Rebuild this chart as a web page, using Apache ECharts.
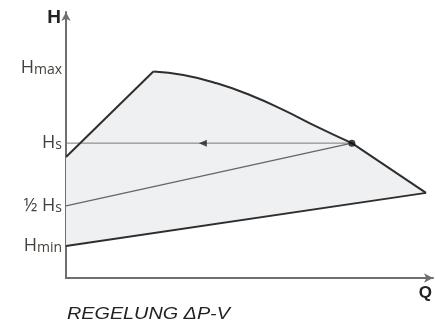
<!DOCTYPE html>
<html><head><meta charset="utf-8">
<script src="https://cdn.jsdelivr.net/npm/echarts@6/dist/echarts.min.js"></script>
<style>html,body{margin:0;padding:0;background:#fff}#c{width:435px;height:327px}</style>
</head><body><div id="c"></div>
<script>
// Rising straight segment of the max curve: [Q, H]
var riseSegment = [[0,45.5],[23.8,77.6]];
// Curved part of the max pump curve
var pumpCurve = [[23.8,77.6],[32.0,76.3],[41.1,73.2],[50.1,68.8],[59.2,63.2],[68.3,56.9],[77.9,50.7]];
// Falling straight segment at the right
var dropSegment = [[77.9,50.7],[98.1,32.0]];
// Minimum curve
var minCurve = [[0,12.0],[98.1,32.0]];
// ΔP-V control line (½Hs -> Hs)
var controlLine = [[0,27.1],[77.9,50.7]];
// Hs set-point horizontal
var hsLine = [[0,50.7],[77.9,50.7]];
var opPoint = [[77.9,50.7]];
var arrowPoint = [[37.3,50.7]];
// Y tick labels
var yTickValues = [79.0, 50.7, 27.1, 12.0];
var yTickLabels = ['{h|H}{s|max}', '{h|H}{s|s}', '{h|½ H}{s|s}', '{h|H}{s|min}'];

var region = riseSegment.concat(pumpCurve.slice(1), dropSegment.slice(1), minCurve.slice().reverse());

var chart = echarts.init(document.getElementById('c'));
chart.setOption({
  animation:false,
  grid:{left:66, right:2, top:12, bottom:49},
  graphic:[{type:'text', left:67, top:306, scaleX:1.2,
    style:{text:'REGELUNG ΔP-V', fontFamily:'Liberation Sans', fontStyle:'italic', fontSize:16.5, fill:'#222'}}],
  xAxis:{type:'value', min:0, max:100, name:'Q', nameLocation:'end', nameGap:-1,
    nameTextStyle:{fontFamily:'Liberation Sans', fontWeight:'bold', fontSize:17, color:'#222', align:'right', verticalAlign:'top', padding:[7,0,0,0]},
    axisLine:{show:true, onZero:false, symbol:['none','arrow'], symbolSize:[7,9], lineStyle:{color:'#6f6f6f', width:2}},
    axisTick:{show:false}, axisLabel:{show:false}, splitLine:{show:false}},
  yAxis:{type:'value', min:0, max:100, name:'H', nameLocation:'end', nameGap:4,
    nameTextStyle:{fontFamily:'Liberation Sans', fontWeight:'bold', fontSize:19, color:'#222', align:'right', verticalAlign:'top', padding:[0,5,0,0]},
    axisLine:{show:true, onZero:false, symbol:['none','arrow'], symbolSize:[7,9], lineStyle:{color:'#6f6f6f', width:2}},
    axisTick:{show:false}, splitLine:{show:false},
    axisLabel:{show:true, customValues:yTickValues, margin:4,
      formatter:function(v){ for(var i=0;i<yTickValues.length;i++){ if(Math.abs(v-yTickValues[i])<1e-6) return yTickLabels[i]; } return ''; },
      rich:{h:{fontFamily:'Open Sans', fontSize:18, color:'#46413b', verticalAlign:'bottom', lineHeight:18},
            s:{fontFamily:'Open Sans', fontSize:14, color:'#46413b', verticalAlign:'bottom', lineHeight:14}}}},
  series:[
    {type:'custom', coordinateSystem:'cartesian2d', silent:true, z:1,
      data:[0],
      renderItem:function(params, api){
        var pts = region.map(function(p){return api.coord(p);});
        return {type:'polygon', shape:{points:pts}, style:{fill:'#eff0f2', stroke:'none'}};
      }},
    {type:'line', data:hsLine, symbol:'none', lineStyle:{color:'#7a7a7a', width:1}, z:2},
    {type:'line', data:controlLine, symbol:'none', lineStyle:{color:'#666', width:1.4}, z:3},
    {type:'line', data:riseSegment, symbol:'none', lineStyle:{color:'#2e2e2e', width:2}, z:4},
    {type:'line', data:pumpCurve, symbol:'none', smooth:true, lineStyle:{color:'#2e2e2e', width:2}, z:4},
    {type:'line', data:dropSegment, symbol:'none', lineStyle:{color:'#2e2e2e', width:2}, z:4},
    {type:'line', data:minCurve, symbol:'none', lineStyle:{color:'#2e2e2e', width:2}, z:4},
    {type:'scatter', data:opPoint, symbol:'circle', symbolSize:7, itemStyle:{color:'#111'}, z:5},
    {type:'scatter', data:arrowPoint, symbol:'triangle', symbolRotate:90, symbolSize:[7,8], itemStyle:{color:'#222'}, z:5}
  ]
});
</script></body></html>
